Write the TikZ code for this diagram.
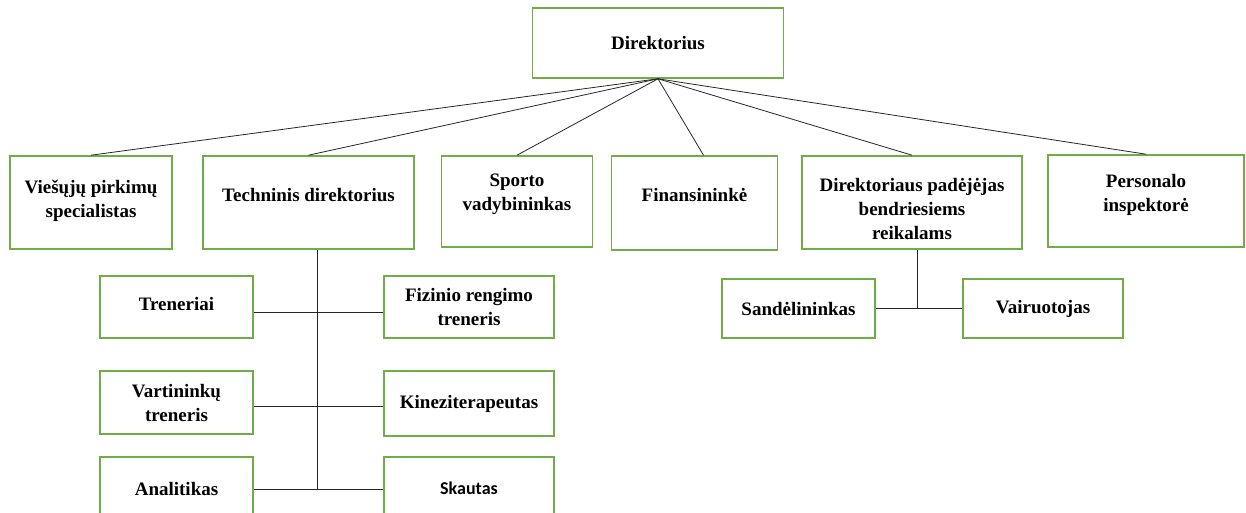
\documentclass[tikz,border=0pt]{standalone}
\usepackage{fontspec}
\setmainfont{Liberation Serif}
\newfontfamily\skautfont{Carlito}
\definecolor{boxgreen}{RGB}{112,173,71}

\begin{document}
\begin{tikzpicture}[x=1pt,y=-1pt,
  box/.style={draw=boxgreen, line width=1.6pt, inner sep=0pt},
  lbl/.style={align=center, font=\bfseries\fontsize{19}{24}\selectfont},
  link/.style={draw=black!85, line width=0.8pt}]
  \clip (0,0) rectangle (1246,513);

  \node[box, minimum width=251, minimum height=70, label={[lbl]center:Direktorius}] (dir) at (658,43) {};

  \node[box, minimum width=162, minimum height=93, label={[lbl,yshift=2pt]center:{Viešųjų pirkimų\\specialistas}}] (vies) at (91,202.5) {};
  \node[box, minimum width=211, minimum height=93, label={[lbl,yshift=7pt]center:Techninis direktorius}] (tech) at (308.5,202.5) {};
  \node[box, minimum width=151, minimum height=91, label={[lbl,yshift=7pt]center:{Sporto\\vadybininkas}}] (sport) at (517,201.5) {};
  \node[box, minimum width=166, minimum height=94, label={[lbl,yshift=8pt]center:Finansininkė}] (fin) at (694.5,203) {};
  \node[box, minimum width=220, minimum height=93, label={[lbl,yshift=-7pt]center:{Direktoriaus padėjėjas\\bendriesiems\\reikalams}}] (pad) at (912,202.5) {};
  \node[box, minimum width=196, minimum height=92, label={[lbl,yshift=6pt]center:{Personalo\\inspektorė}}] (pers) at (1146,201) {};

  \node[box, minimum width=153, minimum height=62, label={[lbl,yshift=3pt]center:Treneriai}] (tren) at (176.5,307) {};
  \node[box, minimum width=170, minimum height=62, label={[lbl]center:{Fizinio rengimo\\treneris}}] (fiz) at (469,307) {};
  \node[box, minimum width=153, minimum height=63, label={[lbl]center:{Vartininkų\\treneris}}] (vart) at (176.5,402.5) {};
  \node[box, minimum width=170, minimum height=65, label={[lbl]center:Kineziterapeutas}] (kin) at (469,403.5) {};
  \node[box, minimum width=153, minimum height=63, label={[lbl]center:Analitikas}] (anal) at (176.5,488.5) {};
  \node[box, minimum width=170, minimum height=63, label={[lbl,font=\skautfont\bfseries\fontsize{18}{22}\selectfont]center:Skautas}] (skaut) at (469,488.5) {};

  \node[box, minimum width=153, minimum height=59, label={[lbl]center:Sandėlininkas}] (sand) at (798.5,308.5) {};
  \node[box, minimum width=160, minimum height=59, label={[lbl]center:Vairuotojas}] (vair) at (1043,308.5) {};

  \foreach \n in {vies,tech,sport,pad,pers}
    \draw[link] (dir.south) -- (\n.north);
  \draw[link] (dir.south) -- ([xshift=9pt]fin.north);

  \coordinate (tv) at ([xshift=8.5pt]tech.south);
  \draw[link] (tv) -- (tv |- 0,489.5);
  \draw[link] ([yshift=-5pt]tren.east) -- ([yshift=-5pt]fiz.west);
  \draw[link] ([yshift=-4pt]vart.east) -- ([yshift=-3pt]kin.west);
  \draw[link] ([yshift=-1pt]anal.east) -- ([yshift=-1pt]skaut.west);

  \coordinate (pv) at ([xshift=5pt]pad.south);
  \draw[link] (pv) -- (pv |- sand.east);
  \draw[link] (sand.east) -- (vair.west);
\end{tikzpicture}
\end{document}
